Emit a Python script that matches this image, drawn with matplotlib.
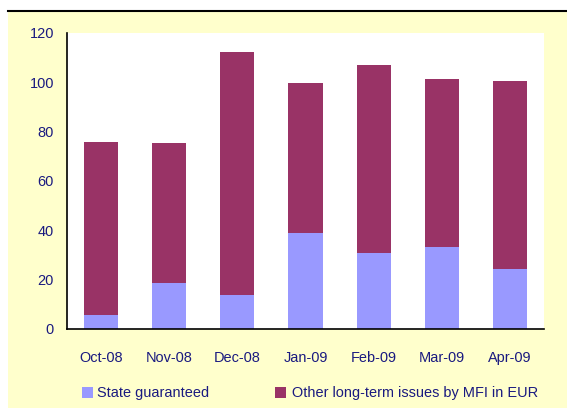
import matplotlib
matplotlib.use("Agg")
import matplotlib.pyplot as plt
from matplotlib.patches import Rectangle
from matplotlib.lines import Line2D

months = ["Oct-08", "Nov-08", "Dec-08", "Jan-09", "Feb-09", "Mar-09", "Apr-09"]
state_guaranteed = [5.7, 18.6, 13.8, 38.9, 30.8, 33.2, 24.3]
other_issues = [70.2, 56.8, 98.5, 60.8, 76.2, 68.1, 76.2]
yticks = [0, 20, 40, 60, 80, 100, 120]
series_names = ["State guaranteed", "Other long-term issues by MFI in EUR"]

blue = "#9999FF"
purple = "#993366"
navy = "#1A1A80"
bg = "#FFFFCC"

plt.rcParams["font.family"] = ["Liberation Sans", "DejaVu Sans"]

W, H = 567, 408
fig = plt.figure(figsize=(W / 100, H / 100), dpi=100, facecolor="white")
renderer = fig.canvas.get_renderer()

# pick a font size whose long legend label spans ~246 px
probe = fig.text(0, 0, series_names[1], fontsize=10)
wpx = probe.get_window_extent(renderer).width
probe.remove()
fs = 10 * 246 / wpx

# yellow panel and top rule
fig.patches.append(Rectangle((8 / W, 0), 1 - 8 / W, 1 - 11 / H, transform=fig.transFigure,
                             facecolor=bg, edgecolor="none", zorder=-5))
fig.lines.append(Line2D([8 / W, 1], [1 - 11 / H, 1 - 11 / H], transform=fig.transFigure,
                        color="black", lw=1.5, zorder=-4))

ax = fig.add_axes([67 / W, 1 - 329 / H, (544 - 67) / W, (329 - 33) / H])
ax.set_zorder(1)
ax.set_facecolor("white")
x = range(len(months))
ax.bar(x, state_guaranteed, width=0.5, color=blue, zorder=2)
ax.bar(x, other_issues, width=0.5, bottom=state_guaranteed, color=purple, zorder=2)

ax.set_xlim(-0.5, len(months) - 0.5)
ax.set_ylim(0, 120)
ax.set_yticks(yticks)
ax.set_yticklabels([str(v) for v in yticks])
ax.set_xticks(list(x))
ax.set_xticklabels(months)
ax.tick_params(axis="both", length=0, labelsize=fs, labelcolor=navy)
ax.tick_params(axis="y", pad=9.4)
ax.tick_params(axis="x", pad=16)
for s in ["top", "right"]:
    ax.spines[s].set_visible(False)
for s in ["left", "bottom"]:
    ax.spines[s].set_color("black")
    ax.spines[s].set_linewidth(1.2)

# legend drawn by hand
for (sq_x, txt_x), name, col in zip([(82, 97), (275, 292)], series_names, [blue, purple]):
    fig.patches.append(Rectangle((sq_x / W, 1 - 398 / H), 11 / W, 11 / H,
                                 transform=fig.transFigure, facecolor=col,
                                 edgecolor="none", zorder=2))
    fig.text(txt_x / W, 1 - 392.5 / H, name, fontsize=fs, color=navy,
             ha="left", va="center")

fig.savefig("out.png", dpi=100, facecolor="white")
